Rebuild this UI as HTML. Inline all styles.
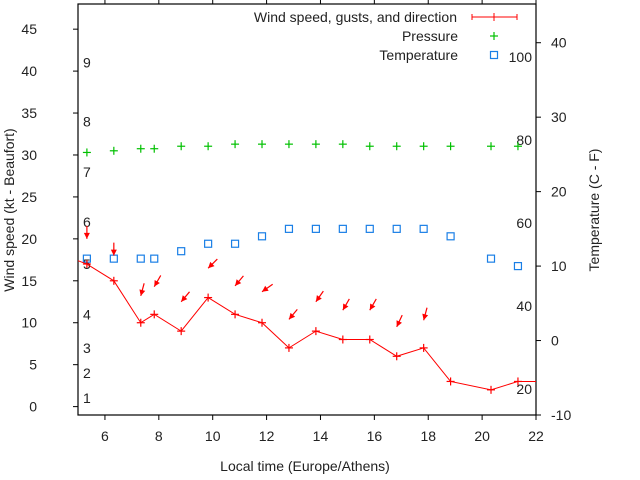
<!DOCTYPE html>
<html><head><meta charset="utf-8"><style>
html,body{margin:0;padding:0;background:#fff;}
svg{display:block;font-family:"Liberation Sans",sans-serif;}
</style></head><body>
<svg id="chart" width="640" height="480" xmlns="http://www.w3.org/2000/svg"></svg>
<script>
const times=[5.33,6.33,7.33,7.83,8.83,9.83,10.83,11.83,12.83,13.83,14.83,15.83,16.83,17.83,18.83,20.33,21.33];
const windSpeed=[17,15,10,11,9,13,11,10,7,9,8,8,6,7,3,2,3];
const gustSpeed=[20,18,13.2,14.3,12.5,16.5,14.4,13.7,10.4,12.5,11.5,11.5,9.5,10.3];
const windDir=[0,0,15,30,40,45,40,55,40,35,30,30,25,15];
const pressure=[77.0,77.4,77.9,77.9,78.5,78.5,79.0,79.0,79.0,79.0,79.0,78.5,78.5,78.5,78.5,78.5,78.5];
const temperature=[11,11,11,11,12,13,13,14,15,15,15,15,15,15,14,11,10];
const xTicks=[6,8,10,12,14,16,18,20,22];
const yTicks=[0,5,10,15,20,25,30,35,40,45];
const tTicks=[-10,0,10,20,30,40];
const pTicks=[20,40,60,80,100];
const beaufortLevels=[1,2,3,4,5,6,7,8,9];
const beaufortKnots=[1,4,7,11,17,22,28,34,41];

const L=78,R=536,T=4,B=415;
const X=t=>L+(t-5)/(22-5)*(R-L);
const Y=v=>B-(v+1)/(48+1)*(B-T);
const YT=v=>B-(v+10)/(55.2)*(B-T);
const YP=v=>389-(v-20)*4.15;
const svg=document.getElementById('chart');
const NS='http://www.w3.org/2000/svg';
function mk(tag,attrs,parent){const e=document.createElementNS(NS,tag);for(const k in attrs)e.setAttribute(k,attrs[k]);(parent||svg).appendChild(e);return e;}
function txt(s,x,y,anchor,parent,extra){const e=mk('text',Object.assign({x:x,y:y,'text-anchor':anchor,'font-size':14,fill:'#222'},extra||{}),parent);e.textContent=s;return e;}

let fr=mk('rect',{x:L,y:T,width:R-L,height:B-T,fill:'none',stroke:'#000','stroke-width':1.2});



const gx=mk('g',{});


xTicks.forEach(t=>{
  mk('line',{x1:X(t),x2:X(t),y1:B,y2:B+5,stroke:'#000'},gx);
  mk('line',{x1:X(t),x2:X(t),y1:T,y2:T-5,stroke:'#000'},gx);
  const l=txt(String(t),X(t),441,'middle',gx);
  
  
});
const gy=mk('g',{});


yTicks.forEach(v=>{
  mk('line',{x1:L-5,x2:L,y1:Y(v),y2:Y(v),stroke:'#000'},gy);
  const l=txt(String(v),37,Y(v)+5,'end',gy);
  
  
});
const gt=mk('g',{});


tTicks.forEach(v=>{
  mk('line',{x1:R,x2:R+5,y1:YT(v),y2:YT(v),stroke:'#000'},gt);
  const l=txt(String(v),551,YT(v)+5,'start',gt);
  
  
});
pTicks.forEach(v=>{
  const l=txt(String(v),532,YP(v)+5,'end',gt);
  
  
});
beaufortLevels.forEach((b,i)=>{
  const l=txt(String(b),83,Y(beaufortKnots[i])+5,'start',gy);
  
  
});

let tt=txt('Local time (Europe/Athens)',305,471,'middle');


tt=txt('Wind speed (kt - Beaufort)',0,0,'middle',null,{transform:'translate(14,210) rotate(-90)'});


tt=txt('Temperature (C - F)',0,0,'middle',null,{transform:'translate(599,210) rotate(-90)'});



temperature.forEach((v,i)=>{
  const s=mk('rect',{x:X(times[i])-3.5,y:YT(v)-3.5,width:7,height:7,fill:'none',stroke:'#1a7fe6','stroke-width':1.2});
  
  
});
pressure.forEach((v,i)=>{
  const g=mk('g',{stroke:'#00c000','stroke-width':1.2});
  
  
  const x=X(times[i]),y=YP(v);
  mk('line',{x1:x-4,x2:x+4,y1:y,y2:y},g);mk('line',{x1:x,x2:x,y1:y-4,y2:y+4},g);
});
let pts=[[L,Y(17.4)]].concat(windSpeed.map((v,i)=>[X(times[i]),Y(v)])).concat([[R,Y(windSpeed[windSpeed.length-1])]]);
const wl=mk('polyline',{points:pts.map(p=>p.join(',')).join(' '),fill:'none',stroke:'#f00','stroke-width':1});


windSpeed.forEach((v,i)=>{
  const g=mk('g',{stroke:'#f00','stroke-width':1.2});
  
  
  const x=X(times[i]),y=Y(v);
  mk('line',{x1:x-4,x2:x+4,y1:y,y2:y},g);mk('line',{x1:x,x2:x,y1:y-4,y2:y+4},g);
});
gustSpeed.forEach((g,i)=>{
  const tx=X(times[i]),ty=Y(g),d=windDir[i]*Math.PI/180,len=13;
  const sx=tx+len*Math.sin(d),sy=ty-len*Math.cos(d);
  const a=mk('g',{});
  
  
  mk('line',{x1:sx,y1:sy,x2:tx,y2:ty,stroke:'#f00','stroke-width':1.2},a);
  const ux=(tx-sx)/len,uy=(ty-sy)/len,px=-uy,py=ux;
  const h=6,w=3;
  mk('polygon',{points:`${tx},${ty} ${tx-ux*h+px*w},${ty-uy*h+py*w} ${tx-ux*h-px*w},${ty-uy*h-py*w}`,fill:'#f00'},a);
});

const lg=mk('g',{});


txt('Wind speed, gusts, and direction',457,22,'end',lg);
txt('Pressure',458,41,'end',lg);
txt('Temperature',458,60,'end',lg);
mk('line',{x1:472,x2:517,y1:17,y2:17,stroke:'#f00'},lg);
mk('line',{x1:472,x2:472,y1:14,y2:20,stroke:'#f00'},lg);
mk('line',{x1:517,x2:517,y1:14,y2:20,stroke:'#f00'},lg);
mk('line',{x1:494,x2:494,y1:13,y2:21,stroke:'#f00'},lg);
mk('line',{x1:490,x2:498,y1:36,y2:36,stroke:'#00c000','stroke-width':1.2},lg);
mk('line',{x1:494,x2:494,y1:32,y2:40,stroke:'#00c000','stroke-width':1.2},lg);
mk('rect',{x:490.5,y:51.5,width:7,height:7,fill:'none',stroke:'#1a7fe6','stroke-width':1.2},lg);
</script>
</body></html>
